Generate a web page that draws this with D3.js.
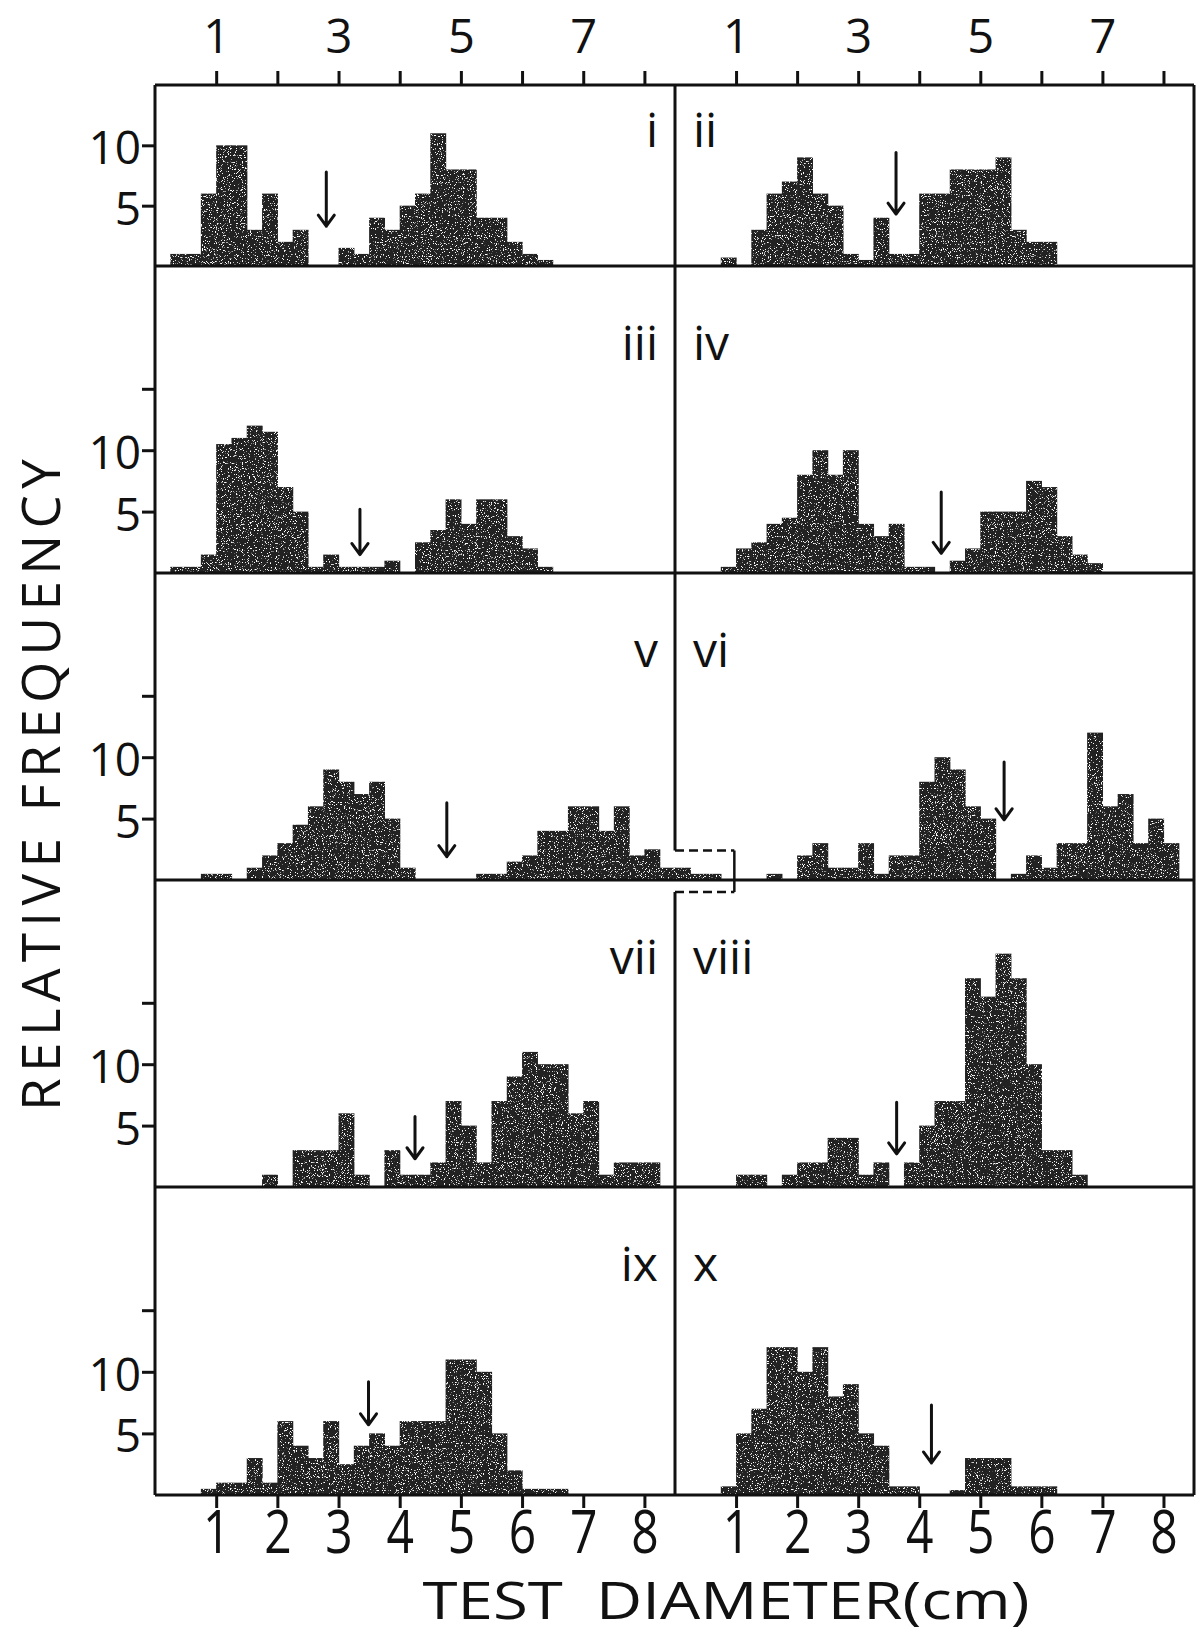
<!DOCTYPE html>
<html><head><meta charset="utf-8">
<script src="https://cdn.jsdelivr.net/npm/d3@7"></script>
<style>body{margin:0;background:#fff} svg{display:block}</style>
</head><body><svg id="chart" width="1201" height="1633"></svg>
<script>
// ---------------- DATA ----------------
const binWidth = 0.25;
const panelNames = ["i","ii","iii","iv","v","vi","vii","viii","ix","x"];
const binStarts  = [0.25, 0.75, 0.25, 0.75, 0.75, 1.5, 1.75, 1.0, 0.75, 0.75];
const freqI    = [1,1,6,10,10,3,6,2,3,0,0,1.5,1,4,3,5,6,11,8,8,4,4,2,1,0.5];
const freqII   = [0.7,0,3,6,7,9,6,5,1,0.5,4,1,1,6,6,8,8,8,9,3,2,2];
const freqIII  = [0.5,0.5,1.5,10.5,11,12,11.5,7,5,0.5,1.5,0.5,0.5,0.5,1,0,2.5,3.5,6,4,6,6,3,2,0.5];
const freqIV   = [0.5,2,2.5,4,4.5,8,10,8,10,4,3,4,0.5,0.5,0,1,2,5,5,5,7.5,7,3,1.5,0.8];
const freqV    = [0.5,0.5,0,1,2,3,4.5,6,9,8,7,8,5,1,0,0,0,0,0.5,0.5,1.5,2,4,4,6,6,4,6,2,2.5,1,1,0.5,0.5];
const freqVI   = [0.5,0,2,3,1,1,3,0.5,2,2,8,10,9,6,5,0,0.5,2,1,3,3,12,6,7,3,5,3];
const freqVII  = [1,0,3,3,3,6,1,0,3,1,1,2,7,5,2,7,9,11,10,10,6,7,1,2,2,2];
const freqVIII = [1,1,0,1,2,2,4,4,1,2,0,2,5,7,7,17,15.5,19,17,10,3,3,1];
const freqIX   = [0.5,1,1,3,1,6,4,3,6,2.5,4,5,4,6,6,6,11,11,10,5,2,0.5,0.5,0.5];
const freqX    = [0.7,5,7,12,12,10,12,8,9,5,4,0.7,0.7,0,0,0.4,3,3,3,0.7,0.7,0.7];
const arrowX   = [2.8, 3.62, 3.35, 4.36, 4.77, 5.39, 4.25, 3.63, 3.49, 4.2];
const arrowTop = [7.8, 9.4, 5.2, 6.6, 6.3, 9.6, 5.75, 6.9, 9.2, 7.3];
const arrowTip = [3.3, 4.3, 1.5, 1.6, 1.9, 4.9, 2.3, 2.7, 5.7, 2.6];
const topTickValues = [1,2,3,4,5,6,7,8];
const topTickLabels = ["1","","3","","5","","7",""];
const bottomTickValues = [1,2,3,4,5,6,7,8];
const bottomTickLabels = ["1","2","3","4","5","6","7","8"];
const yTickValuesFirst = [5,10];
const yTickValuesRest = [5,10,15];
const yTickLabels = {5:"5",10:"10",15:""};
const xLabel = "TEST  DIAMETER(cm)";
const yLabel = "RELATIVE FREQUENCY";
const overflowEnd = 9.47;   // extent of panel v's inset box (cm)
const overflowTop = 2.4;    // top of inset box (frequency units)

const freqs = [freqI,freqII,freqIII,freqIV,freqV,freqVI,freqVII,freqVIII,freqIX,freqX];

// ---------------- LAYOUT ----------------
const FONT = "'Open Sans','DejaVu Sans',sans-serif";
const svg = d3.select("#chart");
const L = 155, D = 675, R = 1194, TOP = 85;
const baselines = [266, 573, 880, 1187, 1495];
const rowMax = [15, 25, 25, 25, 25];
const xLeft  = d3.scaleLinear().domain([0, 8.5]).range([L, D]);
const xRight = d3.scaleLinear().domain([0, 8.5]).range([D, R]);
const yRows = baselines.map((b, r) => d3.scaleLinear().domain([0, rowMax[r]]).range([b, r === 0 ? TOP : baselines[r-1]]));

// speckle texture filter
const defs = svg.append("defs");
const f = defs.append("filter").attr("id","speckle").attr("filterUnits","userSpaceOnUse")
  .attr("x",0).attr("y",0).attr("width",1201).attr("height",1633);
f.append("feTurbulence").attr("type","fractalNoise").attr("baseFrequency",0.85).attr("numOctaves",2).attr("seed",7).attr("result","noise");
f.append("feColorMatrix").attr("in","noise").attr("type","matrix")
  .attr("values","0 0 0 0 1  0 0 0 0 1  0 0 0 0 1  12 0 0 0 -7.4").attr("result","dots");
f.append("feComposite").attr("in","dots").attr("in2","SourceAlpha").attr("operator","in").attr("result","dotsIn");
const fm = f.append("feMerge");
fm.append("feMergeNode").attr("in","SourceGraphic");
fm.append("feMergeNode").attr("in","dotsIn");

// ---------------- BARS ----------------
const barsG = svg.append("g").attr("filter","url(#speckle)");
freqs.forEach((arr, p) => {
  const row = Math.floor(p/2);
  const xs = p % 2 === 0 ? xLeft : xRight;
  const ys = yRows[row];
  const data = arr.map((h, i) => ({x0: binStarts[p] + i*binWidth, h})).filter(d => d.h > 0);
  barsG.selectAll(null).data(data).enter().append("rect")
    .attr("x", d => xs(d.x0))
    .attr("width", d => xs(d.x0 + binWidth) - xs(d.x0) + 0.6)
    .attr("y", d => ys(d.h))
    .attr("height", d => ys(0) - ys(d.h))
    .attr("fill", "#222");
});

// ---------------- FRAME ----------------
const frame = svg.append("g").attr("stroke","#111").attr("stroke-width",3).attr("fill","none");
frame.append("line").attr("x1",L).attr("x2",R).attr("y1",TOP).attr("y2",TOP);
frame.append("line").attr("x1",L).attr("x2",L).attr("y1",TOP).attr("y2",baselines[4]);
frame.append("line").attr("x1",R).attr("x2",R).attr("y1",TOP).attr("y2",baselines[4]);
baselines.forEach(b => frame.append("line").attr("x1",L).attr("x2",R).attr("y1",b).attr("y2",b));
const boxTopY = yRows[2](overflowTop);
const boxBotY = baselines[2] + 12;
const boxRightX = xLeft(overflowEnd);
frame.append("line").attr("x1",D).attr("x2",D).attr("y1",TOP).attr("y2",boxTopY);
frame.append("line").attr("x1",D).attr("x2",D).attr("y1",boxBotY).attr("y2",baselines[4]);
frame.append("line").attr("x1",boxRightX).attr("x2",boxRightX).attr("y1",boxTopY).attr("y2",boxBotY).attr("stroke-width",2.5);
frame.append("line").attr("x1",D).attr("x2",boxRightX).attr("y1",boxTopY).attr("y2",boxTopY)
  .attr("stroke-dasharray","9,5").attr("stroke-width",2.5);
frame.append("line").attr("x1",D).attr("x2",boxRightX).attr("y1",boxBotY).attr("y2",boxBotY)
  .attr("stroke-dasharray","9,5").attr("stroke-width",2.5);

// ---------------- AXES ----------------
function styleAxis(g, fs) {
  g.select(".domain").remove();
  g.selectAll(".tick line").attr("stroke","#111").attr("stroke-width",3);
  g.selectAll(".tick text").attr("font-family",FONT).attr("font-size",fs).attr("fill","#111");
}
[xLeft, xRight].forEach(xs => {
  const gt = svg.append("g").attr("transform",`translate(0,${TOP})`)
    .call(d3.axisTop(xs).tickValues(topTickValues).tickSize(14).tickPadding(18)
      .tickFormat((d,i) => topTickLabels[i]));
  styleAxis(gt, 47);
  const gb = svg.append("g").attr("transform",`translate(0,${baselines[4]})`)
    .call(d3.axisBottom(xs).tickValues(bottomTickValues).tickSize(13).tickPadding(2)
      .tickFormat((d,i) => bottomTickLabels[i]));
  styleAxis(gb, 60);
  gb.selectAll(".tick text").attr("transform","scale(0.8,1)");
});
yRows.forEach((ys, r) => {
  const g = svg.append("g").attr("transform",`translate(${L},0)`)
    .call(d3.axisLeft(ys).tickValues(r === 0 ? yTickValuesFirst : yTickValuesRest)
      .tickSize(13).tickPadding(1).tickFormat(d => yTickLabels[d]));
  styleAxis(g, 46);
  g.selectAll(".tick text").attr("dy","0.4em");
});

// ---------------- PANEL LABELS & ARROWS ----------------
panelNames.forEach((name, p) => {
  const row = Math.floor(p/2);
  const left = p % 2 === 0;
  const xs = left ? xLeft : xRight;
  const ys = yRows[row];
  const y = row === 0 ? TOP + 62 : baselines[row-1] + 94;
  svg.append("text").attr("x", left ? D - 17 : D + 18).attr("y", y)
    .attr("text-anchor", left ? "end" : "start")
    .attr("font-family", FONT).attr("font-size", 48).attr("fill","#111").text(name);
  const ax = xs(arrowX[p]), y1 = ys(arrowTop[p]), y2 = ys(arrowTip[p]);
  svg.append("path")
    .attr("d", `M${ax},${y1}L${ax},${y2}M${ax-8},${y2-11}L${ax},${y2}L${ax+8},${y2-11}`)
    .attr("fill","none").attr("stroke","#111").attr("stroke-width",3)
    .attr("stroke-linecap","round").attr("stroke-linejoin","round");
});

// ---------------- AXIS TITLES ----------------
const xt = svg.append("text").attr("font-family",FONT).attr("font-size",52).attr("fill","#111")
  .attr("text-anchor","middle").style("white-space","pre").text(xLabel);
const xtw = xt.node().getComputedTextLength();
xt.attr("transform",`translate(726,1619) scale(${607/xtw},1)`);

svg.append("text").attr("font-family",FONT).attr("font-size",53).attr("fill","#111")
  .attr("text-anchor","middle").attr("transform","translate(60,785) rotate(-90)")
  .attr("textLength",652).attr("lengthAdjust","spacing").text(yLabel);
</script></body></html>
